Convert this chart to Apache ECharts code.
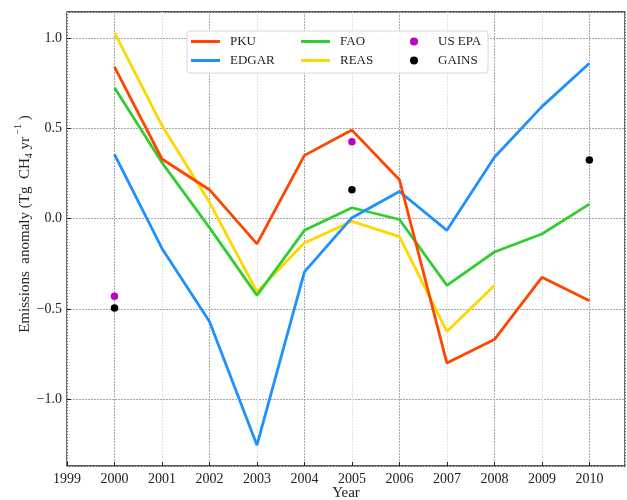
<!DOCTYPE html>
<html>
<head>
<meta charset="utf-8">
<script src="https://cdn.jsdelivr.net/npm/echarts@6/dist/echarts.min.js"></script>
<style>
  html, body { margin: 0; padding: 0; background: #fff; }
  #chart { width: 627px; height: 500px; }
</style>
</head>
<body>
<div id="chart"></div>
<script>
// 数据
var years = [2000, 2001, 2002, 2003, 2004, 2005, 2006, 2007, 2008, 2009, 2010];
var pku   = [0.84, 0.33, 0.16, -0.14, 0.35, 0.49, 0.215, -0.80, -0.67, -0.325, -0.455];
var edgar = [0.355, -0.165, -0.57, -1.255, -0.295, 0.005, 0.15, -0.065, 0.34, 0.62, 0.86];
var fao   = [0.725, 0.31, -0.05, -0.425, -0.065, 0.06, -0.005, -0.37, -0.185, -0.085, 0.08];
var reas  = [1.03, 0.515, 0.09, -0.405, -0.135, -0.015, -0.10, -0.625, -0.37];
var epaYears = [2000, 2005];
var epa = [-0.43, 0.425];
var gainsYears = [2000, 2005, 2010];
var gains = [-0.495, 0.16, 0.325];

function pairs(xs, ys) {
  return ys.map(function (v, i) { return [xs[i], v]; });
}

var serif = "Liberation Serif";
var myChart = echarts.init(document.getElementById("chart"));

var lineStyleFor = function (color) {
  return { color: color, width: 2.8 };
};

var option = {
  backgroundColor: "#fff",
  animation: false,
  grid: {
    left: 67, right: 2, top: 12, bottom: 34, outerBoundsMode: "none",
    show: true, borderColor: "#222", borderWidth: 1.3, backgroundColor: "transparent"
  },
  graphic: [
    {
      type: "rect",
      shape: { x: 187, y: 31, width: 301, height: 42, r: 3 },
      style: { fill: "rgba(255,255,255,0.9)", stroke: "#d8d8d8", lineWidth: 1 },
      z: 10
    },
    // 坐标轴标题
    {
      type: "text", x: 346, y: 493,
      style: { text: "Year", fontFamily: serif, fontSize: 15, fill: "#222", align: "center", verticalAlign: "middle" }
    },
    {
      type: "text", x: 25, y: 224, rotation: Math.PI / 2,
      style: {
        text: "{b|Emissions  anomaly (Tg  CH}{sub|4}{b| yr}{sup| −1}{b| )}",
        align: "center", verticalAlign: "middle",
        rich: {
          b: { fontFamily: serif, fontSize: 15, fill: "#222", lineHeight: 24, verticalAlign: "middle" },
          sub: { fontFamily: serif, fontSize: 10, fill: "#222", lineHeight: 24, verticalAlign: "bottom", padding: [0, 0, 3, 0] },
          sup: { fontFamily: serif, fontSize: 10, fill: "#222", lineHeight: 24, verticalAlign: "top" }
        }
      }
    }
  ],
  legend: [
    {
      left: 191, top: 34, orient: "vertical", padding: 0, itemGap: 4,
      itemWidth: 29, itemHeight: 3, icon: "rect",
      textStyle: { fontFamily: serif, fontSize: 13, color: "#222", padding: [0, 0, 0, 5], lineHeight: 15 },
      data: ["PKU", "EDGAR"], z: 20
    },
    {
      left: 301, top: 34, orient: "vertical", padding: 0, itemGap: 4,
      itemWidth: 29, itemHeight: 3, icon: "rect",
      textStyle: { fontFamily: serif, fontSize: 13, color: "#222", padding: [0, 0, 0, 5], lineHeight: 15 },
      data: ["FAO", "REAS"], z: 20
    },
    {
      left: 410, top: 34, orient: "vertical", padding: 0, itemGap: 4,
      itemWidth: 8, itemHeight: 8, icon: "circle",
      textStyle: { fontFamily: serif, fontSize: 13, color: "#222", padding: [0, 0, 0, 15], lineHeight: 15 },
      data: ["US EPA", "GAINS"], z: 20
    }
  ],
  xAxis: {
    type: "value",
    min: 1999, max: 2010.75, interval: 1,
    axisLine: { show: false, onZero: false },
    axisTick: { show: true, inside: true, length: 4, lineStyle: { color: "#222" } },
    axisLabel: {
      fontFamily: serif, fontSize: 14, color: "#222", margin: 6, showMaxLabel: false,
      formatter: function (v) { return Number.isInteger(v) ? String(v) : ""; }
    },
    splitLine: {
      show: true,
      lineStyle: { color: ["#e2e2e2", "#a8a8a8"], type: [2, 1], width: 1 }
    }
  },
  yAxis: {
    type: "value",
    min: -1.37, max: 1.144, splitNumber: 5,
    axisLine: { show: false, onZero: false },
    axisTick: { show: true, inside: true, length: 4, lineStyle: { color: "#222" } },
    axisLabel: {
      fontFamily: serif, fontSize: 14, color: "#222", margin: 5,
      showMinLabel: false, showMaxLabel: false,
      formatter: function (v) { return v.toFixed(1).replace("-", "\u2212"); }
    },
    splitLine: { show: true, lineStyle: { color: "#a8a8a8", type: [2, 1], width: 1 } }
  },
  series: [
    { name: "PKU", type: "line", data: pairs(years, pku), showSymbol: false, symbol: "none",
      lineStyle: lineStyleFor("#ff4500"), itemStyle: { color: "#ff4500" }, z: 5 },
    { name: "EDGAR", type: "line", data: pairs(years, edgar), showSymbol: false, symbol: "none",
      lineStyle: lineStyleFor("#1e90ff"), itemStyle: { color: "#1e90ff" }, z: 4 },
    { name: "FAO", type: "line", data: pairs(years, fao), showSymbol: false, symbol: "none",
      lineStyle: lineStyleFor("#32cd32"), itemStyle: { color: "#32cd32" }, z: 3 },
    { name: "REAS", type: "line", data: pairs(years, reas), showSymbol: false, symbol: "none",
      lineStyle: lineStyleFor("#ffd700"), itemStyle: { color: "#ffd700" }, z: 2 },
    { name: "US EPA", type: "scatter", data: pairs(epaYears, epa), symbolSize: 7.5,
      itemStyle: { color: "#bf00bf", opacity: 1 }, z: 6 },
    { name: "GAINS", type: "scatter", data: pairs(gainsYears, gains), symbolSize: 7.5,
      itemStyle: { color: "#000", opacity: 1 }, z: 6 }
  ]
};

// 使用刚指定的配置项和数据显示图表。
myChart.setOption(option);
</script>
</body>
</html>
